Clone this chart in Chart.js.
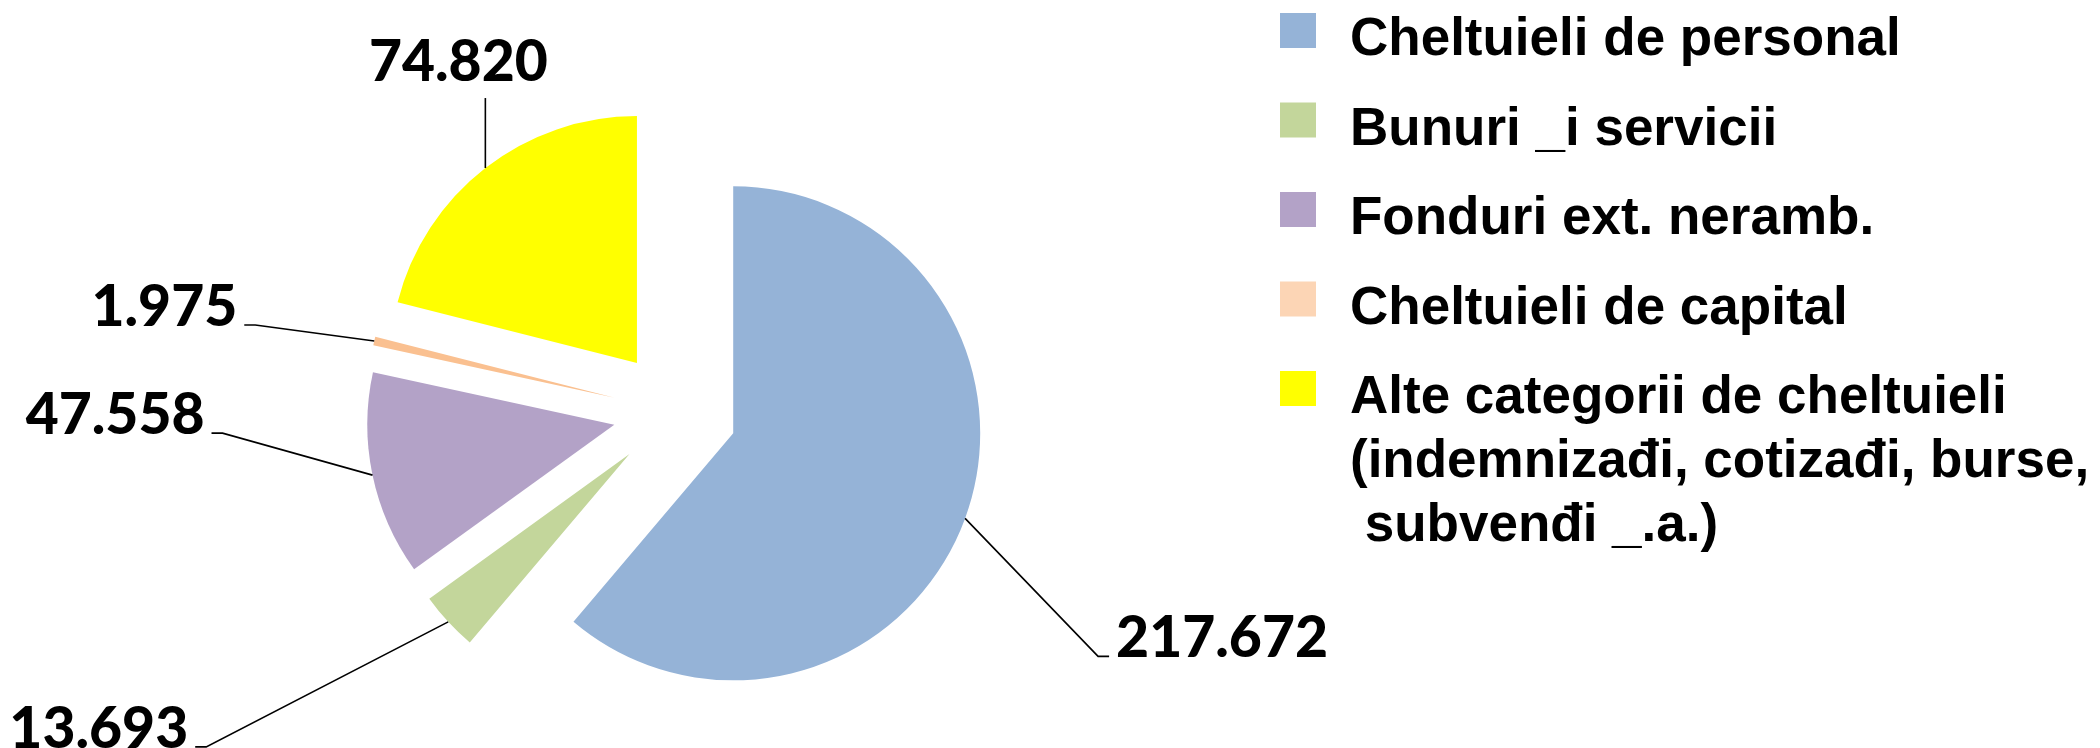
<!DOCTYPE html>
<html>
<head>
<meta charset="utf-8">
<script src="https://cdn.jsdelivr.net/npm/chart.js@4.4.0/dist/chart.umd.min.js"></script>
<style>
  html, body { margin: 0; background: #fff; }
  #wrap { width: 2100px; height: 748px; position: relative; }
</style>
</head>
<body>
<div id="wrap"><canvas id="myChart"></canvas></div>
<script>
const categories = [
  'Cheltuieli de personal',
  'Bunuri _i servicii',
  'Fonduri ext. neramb.',
  'Cheltuieli de capital',
  ['Alte categorii de cheltuieli', '(indemnizađi, cotizađi, burse,', ' subvenđi _.a.)']
];
const values = [217.672, 13.693, 47.558, 1.975, 74.820];

const sliceColors = ['#95B3D7', '#C3D69B', '#B3A2C7', '#FAC090', '#FFFF00'];
const swatchColors = ['#95B3D7', '#C3D69B', '#B3A2C7', '#FCD5B5', '#FFFF00'];

// where each value label sits, relative to the point on the slice edge
const labelPlacement = [
  { dx: 133, dy: 138, side: 'right' },
  { dx: -242, dy: 125, side: 'left' },
  { dx: -150, dy: -42, side: 'left' },
  { dx: -119, dy: -16, side: 'left' },
  { dx: 0, dy: -70, side: 'top' }
];

const EXPLODE = 62;

// pull every slice out along its middle angle
const explodePlugin = {
  id: 'explode',
  beforeDatasetDraw(chart, args) {
    const ctx = chart.ctx;
    args.meta.data.forEach(arc => {
      const mid = (arc.startAngle + arc.endAngle) / 2;
      ctx.save();
      ctx.translate(Math.cos(mid) * EXPLODE, Math.sin(mid) * EXPLODE);
      arc.draw(ctx);
      ctx.restore();
    });
    return false;
  }
};

const valueLabelPlugin = {
  id: 'valueLabels',
  afterDatasetsDraw(chart) {
    const ctx = chart.ctx;
    const meta = chart.getDatasetMeta(0);
    ctx.save();
    ctx.strokeStyle = '#000';
    ctx.lineWidth = 1.6;
    ctx.fillStyle = '#000';
    ctx.font = '900 57px Lato, "Liberation Sans", sans-serif';
    ctx.textBaseline = 'alphabetic';
    meta.data.forEach((arc, i) => {
      const mid = (arc.startAngle + arc.endAngle) / 2;
      const cx = arc.x + Math.cos(mid) * EXPLODE;
      const cy = arc.y + Math.sin(mid) * EXPLODE;
      const ax = cx + Math.cos(mid) * arc.outerRadius;
      const ay = cy + Math.sin(mid) * arc.outerRadius;
      const p = labelPlacement[i];
      const ex = ax + p.dx;
      const ey = ay + p.dy;
      const text = values[i].toFixed(3);
      ctx.beginPath();
      ctx.moveTo(ax, ay);
      ctx.lineTo(ex, ey);
      if (p.side === 'right') {
        ctx.lineTo(ex + 11, ey);
        ctx.stroke();
        ctx.textAlign = 'left';
        ctx.fillText(text, ex + 18, ey + 1);
      } else if (p.side === 'left') {
        ctx.lineTo(ex - 11, ey);
        ctx.stroke();
        ctx.textAlign = 'right';
        ctx.fillText(text, ex - 18, ey + 1);
      } else {
        ctx.stroke();
        ctx.textAlign = 'center';
        ctx.fillText(text, ex - 27, ey - 17);
      }
    });
    ctx.restore();
  }
};

const legendPlugin = {
  id: 'sideLegend',
  afterDraw(chart) {
    const ctx = chart.ctx;
    ctx.save();
    ctx.font = 'bold 53px "Liberation Sans", Arial, sans-serif';
    ctx.fillStyle = '#000';
    ctx.textAlign = 'left';
    ctx.textBaseline = 'alphabetic';
    chart.data.labels.forEach((label, i) => {
      const top = 13 + i * 89.5;
      ctx.fillStyle = swatchColors[i];
      ctx.fillRect(1280, top, 36, 35);
      ctx.fillStyle = '#000';
      const lines = Array.isArray(label) ? label : [label];
      lines.forEach((line, j) => {
        ctx.fillText(line, 1350, top + 42 + j * 64);
      });
    });
    ctx.restore();
  }
};

const ctx = document.getElementById('myChart').getContext('2d');
const myChart = new Chart(ctx, {
  type: 'pie',
  data: {
    labels: categories,
    datasets: [{
      data: values,
      backgroundColor: sliceColors,
      borderWidth: 0
    }]
  },
  options: {
    responsive: true,
    maintainAspectRatio: false,
    animation: false,
    events: [],
    radius: 247,
    layout: { padding: { left: 0, right: 750, top: 76, bottom: 0 } },
    plugins: {
      legend: { display: false },
      tooltip: { enabled: false },
      title: { display: false }
    }
  },
  plugins: [explodePlugin, valueLabelPlugin, legendPlugin]
});
</script>
</body>
</html>
